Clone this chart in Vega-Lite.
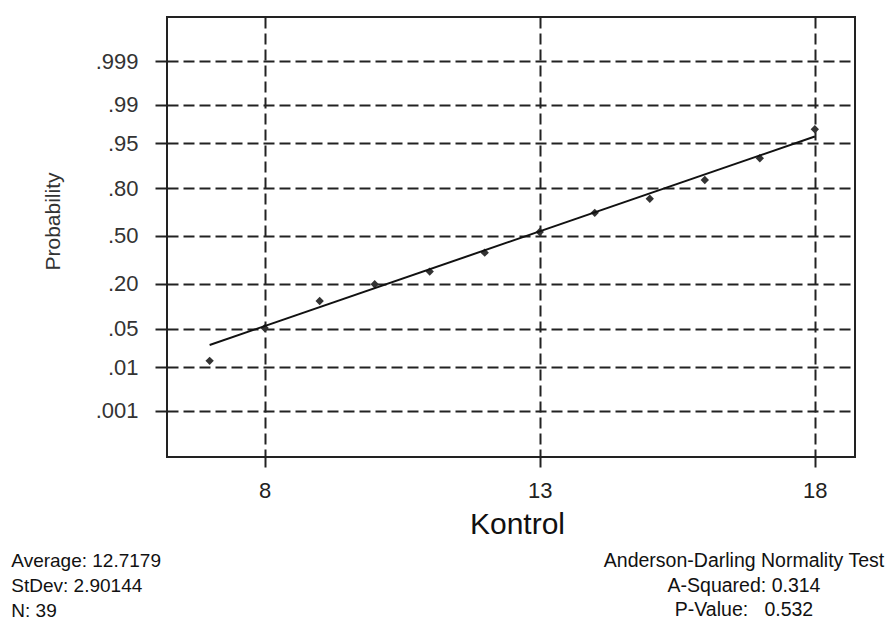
{
  "$schema": "https://vega.github.io/schema/vega-lite/v6.json",
  "padding": {"left": 10, "top": 16, "right": 0, "bottom": 0},
  "background": "white",
  "title": {
    "text": ["Anderson-Darling Normality Test", "A-Squared: 0.314", "P-Value:\u00a0\u00a0 0.532"],
    "orient": "bottom", "anchor": "end", "frame": "bounds", "align": "center",
    "dx": -112, "dy": -70, "offset": 0,
    "fontSize": 19.5, "fontWeight": "normal", "lineHeight": 24.5, "color": "#111", "font": "Liberation Sans"
  },
  "vconcat": [
    {
      "width": 688,
      "height": 440,
      "title": {
        "text": ["Average: 12.7179", "StDev: 2.90144", "N: 39"],
        "orient": "bottom", "anchor": "start", "frame": "group", "align": "left",
        "dx": -155.7, "offset": 13,
        "fontSize": 19, "fontWeight": "normal", "lineHeight": 25, "color": "#111", "font": "Liberation Sans"
      },
      "layer": [
        {
          "data": {"values": [
            {"x": 7, "z": -2.21},
            {"x": 8, "z": -1.63},
            {"x": 9, "z": -1.15},
            {"x": 10, "z": -0.855},
            {"x": 11, "z": -0.63},
            {"x": 12, "z": -0.295},
            {"x": 13, "z": 0.07},
            {"x": 14, "z": 0.41},
            {"x": 15, "z": 0.66},
            {"x": 16, "z": 0.99},
            {"x": 17, "z": 1.375},
            {"x": 18, "z": 1.89}
          ]},
          "mark": {"type": "point", "shape": "diamond", "filled": true, "size": 70, "color": "#333", "opacity": 1, "strokeWidth": 0},
          "encoding": {
            "x": {
              "field": "x", "type": "quantitative",
              "scale": {"domain": [6.225, 18.73], "nice": false, "zero": false},
              "axis": {
                "values": [8, 13, 18], "format": "d",
                "title": "Kontrol", "titleFontSize": 30, "titleFontWeight": "normal", "titleColor": "#111",
                "titleX": 350, "titleY": 52, "titleBaseline": "top", "titleFont": "Liberation Sans",
                "labelFontSize": 22, "labelColor": "#222", "labelPadding": 13, "labelFont": "Liberation Sans", "labelFlush": false,
                "tickSize": 10, "tickWidth": 2, "tickColor": "#222",
                "domain": false,
                "grid": true, "gridDash": [11, 5], "gridColor": "#222", "gridWidth": 2, "gridOpacity": 1
              }
            },
            "y": {
              "field": "z", "type": "quantitative",
              "scale": {"domain": [-3.912, 3.876], "nice": false, "zero": false},
              "axis": {
                "values": [-3.0902, -2.3263, -1.6449, -0.8416, 0, 0.8416, 1.6449, 2.3263, 3.0902],
                "labelExpr": "datum.value > 3 ? '.999' : datum.value > 2 ? '.99' : datum.value > 1.5 ? '.95' : datum.value > 0.5 ? '.80' : datum.value > -0.5 ? '.50' : datum.value > -1 ? '.20' : datum.value > -2 ? '.05' : datum.value > -3 ? '.01' : '.001'",
                "title": "Probability", "titleFontSize": 21, "titleFontWeight": "normal", "titleColor": "#333",
                "titlePadding": 32, "titleY": 204, "titleFont": "Liberation Sans",
                "labelFontSize": 22, "labelColor": "#333", "labelPadding": 17, "labelFont": "Liberation Sans", "labelFlush": false,
                "tickSize": 12, "tickWidth": 2, "tickColor": "#222",
                "domain": false,
                "grid": true, "gridDash": [11, 5], "gridColor": "#222", "gridWidth": 2, "gridOpacity": 1
              }
            }
          }
        },
        {
          "data": {"values": [
            {"x": 7, "z": -1.93},
            {"x": 18, "z": 1.76}
          ]},
          "mark": {"type": "line", "color": "#111", "strokeWidth": 2},
          "encoding": {
            "x": {"field": "x", "type": "quantitative"},
            "y": {"field": "z", "type": "quantitative"}
          }
        }
      ]
    }
  ],
  "config": {
    "font": "Liberation Sans",
    "view": {"stroke": "#222", "strokeWidth": 2}
  }
}
